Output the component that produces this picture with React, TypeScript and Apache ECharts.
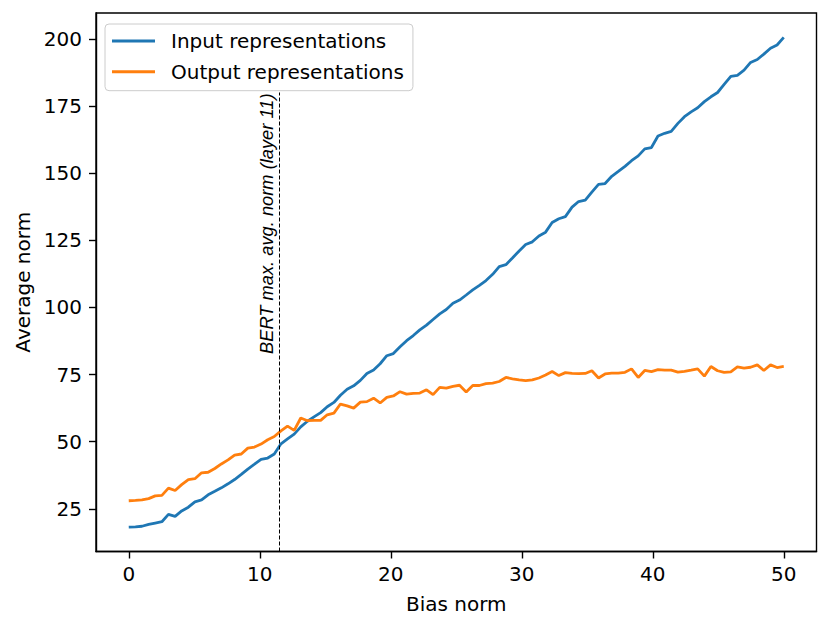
import React, { useEffect, useRef } from "react";
import * as echarts from "echarts";

const xs = [
  0, 0.51, 1.01, 1.52, 2.02, 2.53, 3.03, 3.54, 4.04, 4.55,
  5.05, 5.56, 6.06, 6.57, 7.07, 7.58, 8.08, 8.59, 9.09, 9.6,
  10.1, 10.61, 11.11, 11.62, 12.12, 12.63, 13.13, 13.64, 14.14, 14.65,
  15.15, 15.66, 16.16, 16.67, 17.17, 17.68, 18.18, 18.69, 19.19, 19.7,
  20.2, 20.71, 21.21, 21.72, 22.22, 22.73, 23.23, 23.74, 24.24, 24.75,
  25.25, 25.76, 26.26, 26.77, 27.27, 27.78, 28.28, 28.79, 29.29, 29.8,
  30.3, 30.81, 31.31, 31.82, 32.32, 32.83, 33.33, 33.84, 34.34, 34.85,
  35.35, 35.86, 36.36, 36.87, 37.37, 37.88, 38.38, 38.89, 39.39, 39.9,
  40.4, 40.91, 41.41, 41.92, 42.42, 42.93, 43.43, 43.94, 44.44, 44.95,
  45.45, 45.96, 46.46, 46.97, 47.47, 47.98, 48.48, 48.99, 49.49, 50,
];

const inputNorms = [
  18.2, 18.3, 18.5, 19.2, 19.7, 20.2, 22.9, 22.2, 24.2, 25.6,
  27.6, 28.3, 30.2, 31.5, 32.8, 34.3, 35.9, 37.8, 39.8, 41.6,
  43.4, 43.9, 45.4, 49.2, 51.0, 52.8, 55.5, 57.6, 59.2, 60.8,
  63.0, 64.6, 67.3, 69.5, 70.8, 72.8, 75.4, 76.7, 79.0, 82.0,
  82.8, 85.3, 87.6, 89.5, 91.6, 93.4, 95.5, 97.6, 99.2, 101.5,
  102.7, 104.6, 106.5, 108.2, 110.0, 112.3, 115.2, 115.9, 118.4, 121.0,
  123.4, 124.4, 126.6, 128.0, 131.6, 133.0, 133.8, 137.3, 139.4, 139.9,
  142.9, 145.8, 146.1, 148.8, 150.6, 152.5, 154.6, 156.4, 159.0, 159.5,
  163.8, 164.8, 165.5, 168.5, 171.0, 172.8, 174.3, 176.6, 178.4, 180.0,
  183.0, 186.0, 186.4, 188.3, 191.2, 192.3, 194.3, 196.5, 197.7, 200.5,
];

const outputNorms = [
  28.0, 28.1, 28.3, 28.8, 29.8, 30.0, 32.7, 31.8, 34.0, 35.9,
  36.2, 38.4, 38.6, 40.0, 41.7, 43.2, 45.0, 45.4, 47.6, 48.0,
  49.1, 50.7, 51.9, 54.0, 55.8, 54.2, 58.8, 57.8, 57.9, 57.9,
  60.0, 60.6, 64.0, 63.3, 62.5, 64.7, 64.9, 66.2, 64.4, 66.5,
  67.0, 68.6, 67.7, 68.0, 68.1, 69.3, 67.5, 70.2, 69.9, 70.6,
  71.0, 68.5, 70.9, 70.9, 71.6, 71.8, 72.4, 73.9, 73.4, 73.0,
  72.7, 73.0, 73.7, 74.8, 76.1, 74.6, 75.7, 75.4, 75.3, 75.4,
  76.4, 73.7, 75.2, 75.5, 75.5, 75.8, 77.1, 73.9, 76.5, 76.1,
  76.8, 76.6, 76.6, 75.9, 76.2, 76.6, 77.1, 74.4, 78.0, 76.4,
  75.8, 76.0, 77.8, 77.4, 77.7, 78.6, 76.5, 78.6, 77.6, 78.0,
];

const xTicks = [0, 10, 20, 30, 40, 50];
const yTicks = [25, 50, 75, 100, 125, 150, 175, 200];

const seriesNames = ["Input representations", "Output representations"];
const bertLayer11X = 11.5;
const bertLineTop = 180;
const bertLabel = "BERT max. avg. norm (layer 11)";

const X_MIN = -2.5;
const X_MAX = 52.5;
const Y_MIN = 9.1;
const Y_MAX = 209.6;

const FONT = "DejaVu Sans";

export default function App() {
  const ref = useRef<HTMLDivElement>(null);

  useEffect(() => {
    if (!ref.current) return;
    const chart = echarts.init(ref.current, null, { renderer: "svg" });
    const blue = "#1f77b4";
    const orange = "#ff7f0e";
    const axisLabelStyle = { color: "#000", fontSize: 20, fontFamily: FONT };
    const spine = { color: "#000", width: 1.4 };

    chart.setOption({
      animation: false,
      backgroundColor: "#fff",
      textStyle: { fontFamily: FONT },
      grid: {
        left: 96,
        right: 13.5,
        top: 13,
        bottom: 71.5,
        show: true,
        borderColor: "#000",
        borderWidth: 1.4,
        backgroundColor: "transparent",
      },
      legend: {
        orient: "vertical",
        left: 105,
        top: 24,
        padding: [7, 9, 9, 7],
        itemGap: 10.7,
        itemWidth: 43,
        itemHeight: 3,
        icon: "rect",
        borderColor: "#cccccc",
        borderWidth: 1,
        borderRadius: 4,
        backgroundColor: "rgba(255,255,255,0.8)",
        textStyle: {
          color: "#000",
          fontSize: 20,
          fontFamily: FONT,
          lineHeight: 20,
          padding: [0, 0, 0, 11],
        },
        data: seriesNames,
      },
      xAxis: {
        type: "value",
        min: X_MIN,
        max: X_MAX,
        name: "Bias norm",
        nameLocation: "middle",
        nameGap: 42,
        nameTextStyle: { color: "#000", fontSize: 20, fontFamily: FONT },
        axisLine: { show: true, onZero: false, lineStyle: spine },
        axisTick: {
          show: true,
          length: 7,
          lineStyle: spine,
          customValues: xTicks,
        },
        axisLabel: { ...axisLabelStyle, margin: 12, customValues: xTicks },
        splitLine: { show: false },
      },
      yAxis: {
        type: "value",
        min: Y_MIN,
        max: Y_MAX,
        name: "Average norm",
        nameLocation: "middle",
        nameGap: 61,
        nameTextStyle: { color: "#000", fontSize: 20, fontFamily: FONT },
        axisLine: { show: true, onZero: false, lineStyle: spine },
        axisTick: {
          show: true,
          length: 7,
          lineStyle: spine,
          customValues: yTicks,
        },
        axisLabel: { ...axisLabelStyle, margin: 14, customValues: yTicks },
        splitLine: { show: false },
      },
      series: [
        {
          name: seriesNames[0],
          type: "line",
          data: xs.map((x, i) => [x, inputNorms[i]]),
          symbol: "none",
          lineStyle: { color: blue, width: 2.8 },
          itemStyle: { color: blue },
          z: 2,
        },
        {
          name: seriesNames[1],
          type: "line",
          data: xs.map((x, i) => [x, outputNorms[i]]),
          symbol: "none",
          lineStyle: { color: orange, width: 2.8 },
          itemStyle: { color: orange },
          z: 3,
          markLine: {
            silent: true,
            symbol: "none",
            label: { show: false },
            lineStyle: { color: "#000", width: 1, type: [4, 2] },
            data: [
              [
                { coord: [bertLayer11X, Y_MIN] },
                { coord: [bertLayer11X, bertLineTop] },
              ],
            ],
          },
        },
      ],
    });

    const p = chart.convertToPixel({ xAxisIndex: 0, yAxisIndex: 0 }, [
      bertLayer11X,
      bertLineTop,
    ]) as number[];
    chart.setOption({
      graphic: [
        {
          type: "text",
          x: p[0] - 13,
          y: p[1] + 1,
          rotation: Math.PI / 2,
          silent: true,
          style: {
            text: bertLabel,
            fontSize: 18.3,
            fontStyle: "italic",
            fontFamily: "Liberation Sans",
            fill: "#000",
            align: "right",
            verticalAlign: "middle",
            textAlign: "right",
            textVerticalAlign: "middle",
          },
        },
      ],
    });

    return () => {
      chart.dispose();
    };
  }, []);

  return (
    <div
      ref={ref}
      style={{ position: "absolute", left: 0, top: 0, width: 830, height: 623 }}
    />
  );
}
